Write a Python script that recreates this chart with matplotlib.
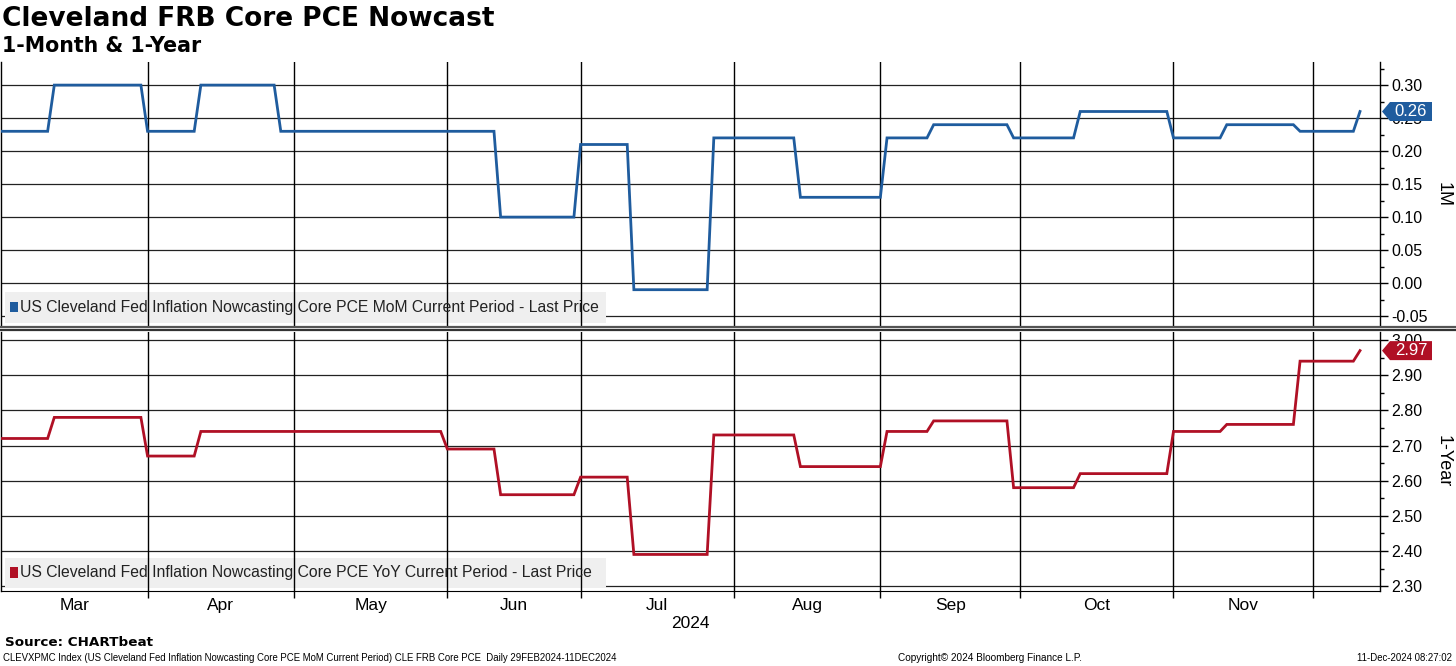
import numpy as np
import pandas as pd
import matplotlib
matplotlib.use('Agg')
import matplotlib.pyplot as plt
from matplotlib.patches import Polygon, Rectangle
from matplotlib.lines import Line2D
from matplotlib.transforms import IdentityTransform
from matplotlib.ticker import MultipleLocator

# nowcast levels, listed on the days they changed (weekday calendar)
start_date = '2024-02-29'
end_date = '2024-12-11'
change_dates = ['2024-02-29', '2024-03-12', '2024-04-01', '2024-04-11', '2024-04-29',
                '2024-06-03', '2024-06-13', '2024-07-01', '2024-07-11', '2024-07-29',
                '2024-08-15', '2024-09-03', '2024-09-12', '2024-09-30', '2024-10-14',
                '2024-11-01', '2024-11-13', '2024-11-28', '2024-12-11']
mom_values = [0.23, 0.30, 0.23, 0.30, 0.23,
              0.23, 0.10, 0.21, -0.01, 0.22,
              0.13, 0.22, 0.24, 0.22, 0.26,
              0.22, 0.24, 0.23, 0.26]
yoy_values = [2.72, 2.78, 2.67, 2.74, 2.74,
              2.69, 2.56, 2.61, 2.39, 2.73,
              2.64, 2.74, 2.77, 2.58, 2.62,
              2.74, 2.76, 2.94, 2.97]

mom_ticks = [-0.05, 0.00, 0.05, 0.10, 0.15, 0.20, 0.25, 0.30]
yoy_ticks = [2.30, 2.40, 2.50, 2.60, 2.70, 2.80, 2.90, 3.00]

mom_label = 'US Cleveland Fed Inflation Nowcasting Core PCE MoM Current Period - Last Price'
yoy_label = 'US Cleveland Fed Inflation Nowcasting Core PCE YoY Current Period - Last Price'

BLUE = '#1f5c9e'
RED = '#b01025'
SANS = ['Liberation Sans', 'DejaVu Sans']

bdays = pd.bdate_range(start_date, end_date)
idx = pd.to_datetime(change_dates)
mom = pd.Series(mom_values, index=idx).reindex(bdays).ffill()
yoy = pd.Series(yoy_values, index=idx).reindex(bdays).ffill()
x = np.arange(len(bdays))

month_starts = [i for i in range(1, len(bdays)) if bdays[i].month != bdays[i - 1].month]
grid_idx = month_starts[1:]          # first boundary sits on the left edge
edges = [0] + grid_idx
mids = [(a + b) / 2 for a, b in zip(edges[:-1], edges[1:])]
month_names = [bdays[b - 1].strftime('%b') for b in edges[1:]]
xmax = len(bdays) + 2

W, H = 1456, 666
fig = plt.figure(figsize=(W / 100, H / 100), dpi=100)

def px(x0, y0, x1, y1):
    return [x0 / W, 1 - y1 / H, (x1 - x0) / W, (y1 - y0) / H]

ax1 = fig.add_axes(px(1, 62, 1380, 326))
ax2 = fig.add_axes(px(1, 332, 1380, 591))

panels = [
    (ax1, mom, BLUE, mom_ticks, (-0.065, 0.335), 0.025, '1M', mom_label),
    (ax2, yoy, RED, yoy_ticks, (2.286, 3.023), 0.05, '1-Year', yoy_label),
]

for ax, s, color, ticks, ylim, minor, ylab, leg in panels:
    ax.set_xlim(0, xmax)
    ax.set_ylim(*ylim)
    for t in ticks:
        ax.axhline(t, color='#222222', lw=0.9, zorder=1)
    for g in grid_idx:
        ax.axvline(g, color='black', lw=1.0, zorder=3)
    ax.plot(x, s.values, color=color, lw=2.0, zorder=4, solid_joinstyle='miter')

    ax.yaxis.tick_right()
    ax.set_yticks(ticks)
    ax.set_yticklabels([f'{t:.2f}' for t in ticks], fontfamily=SANS, fontsize=11.5)
    ax.yaxis.set_minor_locator(MultipleLocator(minor))
    ax.tick_params(axis='y', which='major', direction='out', length=6, width=1, pad=2)
    ax.tick_params(axis='y', which='minor', direction='out', length=3, width=1)
    ax.set_ylabel(ylab, rotation=270, fontfamily=SANS, fontsize=13, va='center')
    ax.yaxis.set_label_coords(1.0455, 0.5)

    for sp in ['top', 'bottom']:
        ax.spines[sp].set_visible(False)
    ax.spines['right'].set_linewidth(1.0)
    ax.spines['left'].set_linewidth(1.0)

    # legend strip
    ax.add_patch(Rectangle((0.003, 0.013), 0.436, 0.115, transform=ax.transAxes,
                           facecolor='#efefef', edgecolor='none', zorder=2))
    ax.add_patch(Rectangle((0.0068, 0.052), 0.0058, 0.04, transform=ax.transAxes,
                           facecolor=color, edgecolor='none', zorder=5))
    ax.text(0.0135, 0.071, leg, transform=ax.transAxes, fontfamily=SANS,
            fontsize=11.3, va='center', ha='left', color='#222222', zorder=5)

ax1.set_xticks([])
ax2.spines['bottom'].set_visible(True)
ax2.set_xticks(grid_idx)
ax2.set_xticklabels([])
ax2.tick_params(axis='x', which='major', direction='out', length=5, width=1)
ax2.set_xticks(mids, minor=True)
ax2.set_xticklabels(month_names, minor=True, fontfamily=SANS, fontsize=12.5)
ax2.tick_params(axis='x', which='minor', length=0, pad=5)

# last value tags
def value_tag(ax, value, color):
    xr = ax.transAxes.transform((1, 0))[0]
    yv = ax.transData.transform((0, value))[1]
    h = 9.5
    verts = [(xr + 2, yv), (xr + 10, yv + h), (xr + 52, yv + h), (xr + 52, yv - h), (xr + 10, yv - h)]
    fig.add_artist(Polygon(verts, closed=True, transform=IdentityTransform(),
                           facecolor=color, edgecolor='none', zorder=20))
    fig.text(xr + 31, yv, f'{value:.2f}', transform=IdentityTransform(), color='white',
             fontfamily=SANS, fontsize=12, ha='center', va='center', zorder=21)

value_tag(ax1, mom.iloc[-1], BLUE)
value_tag(ax2, yoy.iloc[-1], RED)

# panel separator
for yy, c in [(326.5, '#555555'), (329.5, '#333333')]:
    fig.add_artist(Line2D([0, 1], [1 - yy / H, 1 - yy / H], transform=fig.transFigure,
                          color=c, lw=1.6, zorder=15))

fig.text(690 / W, 1 - 623 / H, '2024', fontfamily=SANS, fontsize=12.5, ha='center', va='center')

fig.text(2 / W, 1 - 19 / H, 'Cleveland FRB Core PCE Nowcast', fontsize=19, fontweight='bold',
         ha='left', va='center', fontfamily='DejaVu Sans')
fig.text(2 / W, 1 - 46 / H, '1-Month & 1-Year', fontsize=14.8, fontweight='bold',
         ha='left', va='center', fontfamily='DejaVu Sans')

fig.text(5 / W, 1 - 643 / H, 'Source: CHARTbeat', fontsize=9.7, fontweight='bold',
         ha='left', va='center', fontfamily='DejaVu Sans')
fig.text(3 / W, 1 - 658 / H,
         'CLEVXPMC Index (US Cleveland Fed Inflation Nowcasting Core PCE MoM Current Period) '
         'CLE FRB Core PCE  Daily 29FEB2024-11DEC2024',
         fontsize=6.95, ha='left', va='center', fontfamily=SANS)
fig.text(990 / W, 1 - 658 / H, 'Copyright\u00a9 2024 Bloomberg Finance L.P.',
         fontsize=7.2, ha='center', va='center', fontfamily=SANS)
fig.text(1452 / W, 1 - 658 / H, '11-Dec-2024 08:27:02',
         fontsize=6.95, ha='right', va='center', fontfamily=SANS)

fig.savefig('out.png', dpi=100)
